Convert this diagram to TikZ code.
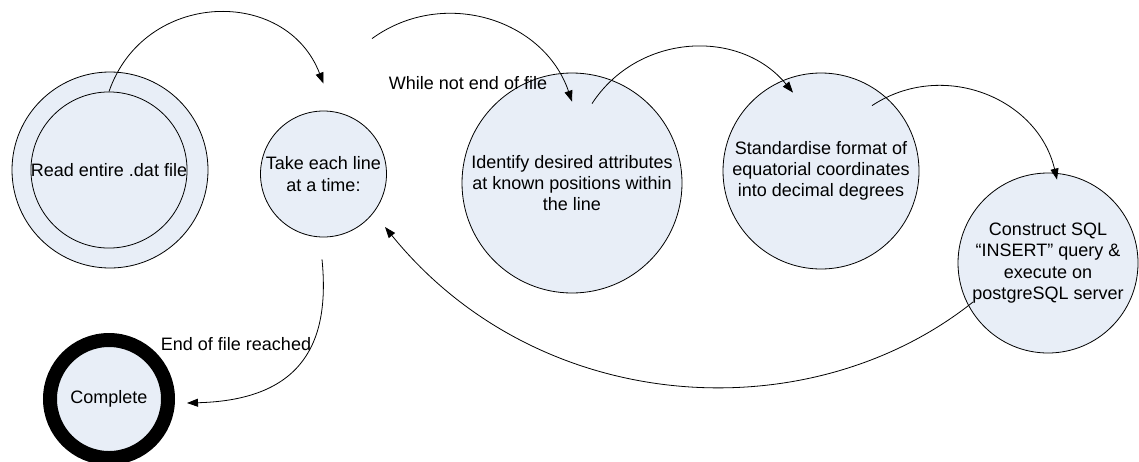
\documentclass[tikz,border=0pt]{standalone}
\usepackage{fontspec}
\setmainfont{Liberation Sans}
\usetikzlibrary{arrows.meta,calc}
\definecolor{statefill}{RGB}{232,238,247}
\begin{document}
\begin{tikzpicture}[x=1pt,y=-1pt,
  every node/.style={font=\fontsize{18}{21.3}\selectfont},
  state/.style={circle, draw, line width=0.8pt, fill=statefill, inner sep=0pt, align=center},
  flow/.style={line width=0.8pt, -{Triangle[length=11pt,width=8pt]}},
  tag/.style={inner sep=0pt}]
\useasboundingbox (0,0) rectangle (1139,461);

% states
\node[state, minimum size=196pt] (read) at (110,170) {};
\node[state, minimum size=154pt] (readin) at (109,170) {Read entire .dat file};
\node[state, minimum size=126pt] (take) at (323.5,174) {Take each line\\at a time:};
\node[state, minimum size=220pt] (ident) at (572,183) {Identify desired attributes\\at known positions within\\the line};
\node[state, minimum size=196pt] (std) at (821,171) {Standardise format of\\equatorial coordinates\\into decimal degrees};
\node[state, minimum size=180pt] (sql) at (1048,263) {Construct SQL\\“INSERT” query \&\\execute on\\postgreSQL server};
\node[state, line width=14pt, minimum size=118pt] (done) at (109,399) {Complete};

% transition labels
\node[tag] (whilelbl) at (468,83) {While not end of file};
\node[tag] (eoflbl) at (236,344) {End of file reached};

% transitions
\draw[flow] (readin.north) .. controls (144,-10) and (286,-14) .. ($(take.north)+(0,-27)$);
\draw[flow] ($(take.north)+(48.5,-72)$) .. controls (443,-13) and (544,19) .. ($(ident.north)+(0,29)$);
\draw[flow] ($(ident.north)+(20,31)$) .. controls (638,33) and (740,28) .. ($(std.north)+(-28,20)$);
\draw[flow] ($(std.north)+(51,33)$) .. controls (943,59) and (1038,98) .. ($(sql.north)+(9,7)$);
\draw[flow] ($(sql.center)+(-75,39)$) .. controls (810,432) and (540,418) .. ($(take.center)+(61.5,53)$);
\draw[flow] ($(take.south)+(-1.5,22)$) .. controls (330,340) and (305,400) .. ($(done.east)+(12,4)$);
\end{tikzpicture}
\end{document}
